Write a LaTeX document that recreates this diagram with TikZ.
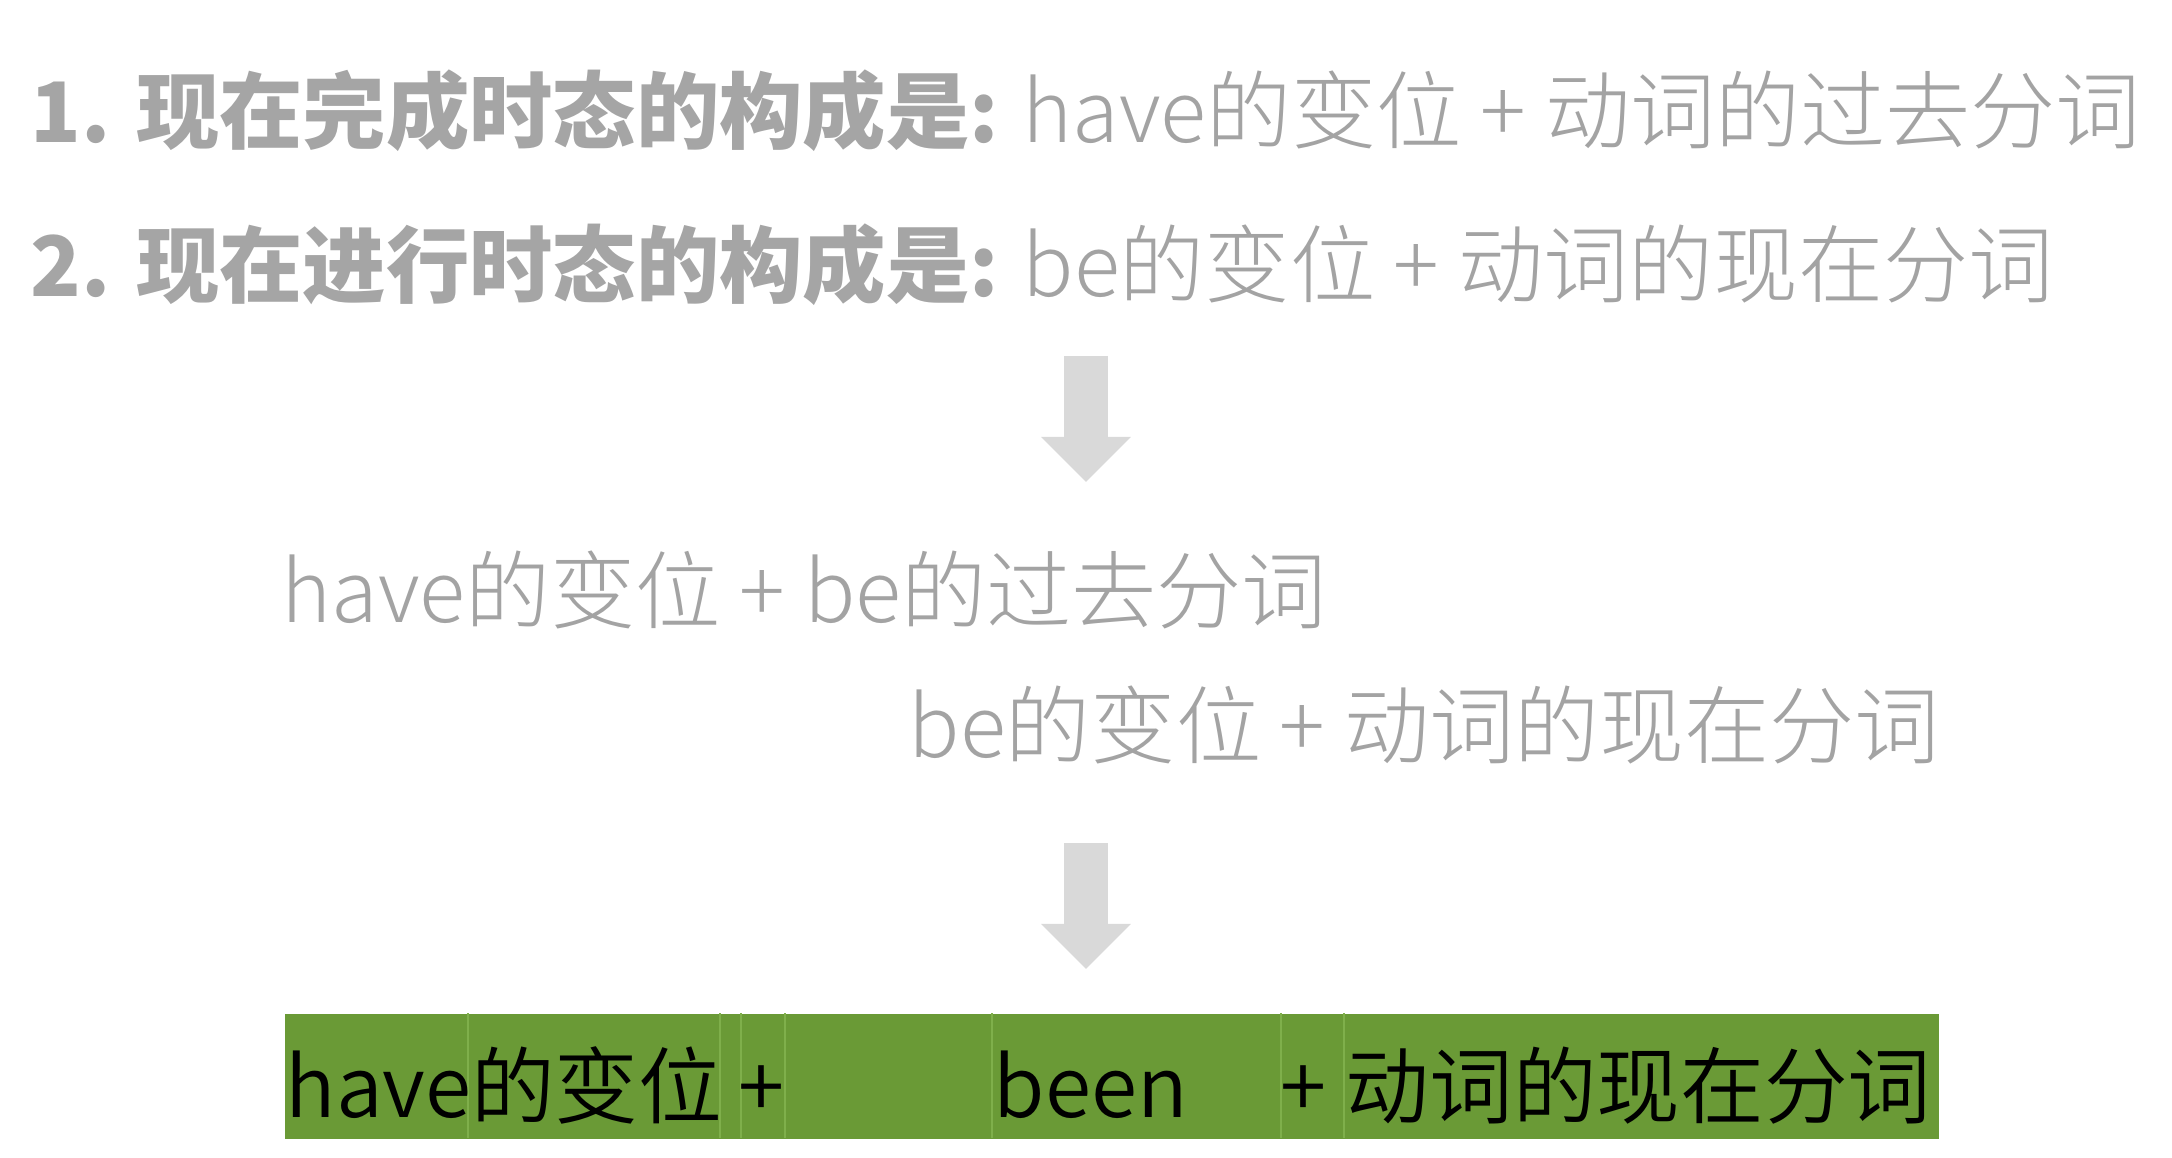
\documentclass[tikz,border=0pt]{standalone}
\usepackage{fontspec}
\usetikzlibrary{arrows.meta}
\newfontfamily\cjk{Noto Sans CJK SC}
\newfontfamily\cjklight{Noto Sans CJK SC Light}
\newfontfamily\cjkdemi{Noto Sans CJK SC DemiLight}
\definecolor{headgray}{HTML}{A5A5A5}
\definecolor{rulegray}{HTML}{A3A3A3}
\definecolor{arrowgray}{HTML}{D9D9D9}
\definecolor{boxgreen}{HTML}{6A9A36}
\definecolor{cellgreen}{HTML}{7FAF4B}
\tikzset{
  head/.style={anchor=base west, inner sep=0pt, text=headgray, font=\cjk\bfseries\fontsize{23.7}{28}\selectfont},
  rule/.style={anchor=base west, inner sep=0pt, text=rulegray, font=\cjklight\fontsize{24.2}{28}\selectfont},
  cell/.style={anchor=base west, inner sep=0pt, text=black, font=\cjkdemi\fontsize{23.8}{28}\selectfont},
  down/.style={arrowgray, line width=0.43cm, -{Triangle[width=0.87cm, length=0.45cm]}},
}
\begin{document}
\begin{tikzpicture}[x=0.01cm, y=-0.01cm]
  \useasboundingbox (0,0) rectangle (2172,1158);
  \draw
    (30,143) node[head] (h1){1. 现在完成时态的构成是:}
    (1022,143) node[rule] (r1){have的变位 + 动词的过去分词}
    (30,297) node[head] (h2){2. 现在进行时态的构成是:}
    (1022,297) node[rule] (r2){be的变位 + 动词的现在分词};
  \coordinate (a1top) at (1086,356);
  \coordinate (a1tip) at (1086,482);
  \draw[down] (a1top) -- (a1tip);
  \draw
    (281,623) node[rule] (r3){have的变位 + be的过去分词}
    (908,758) node[rule] (r4){be的变位 + 动词的现在分词};
  \coordinate (a2top) at (1086,843);
  \coordinate (a2tip) at (1086,969);
  \draw[down] (a2top) -- (a2tip);
  % result row
  \node[fill=boxgreen, inner sep=0pt, minimum width=16.53cm, minimum height=1.25cm, anchor=north west] (box) at (284,1013) {};
  \foreach \cx in {468,720,741,785,992,1281,1344}
    \draw[cellgreen, line width=0.6pt] (\cx,1013) -- (\cx,1138);
  \draw
    (285,1117) node[cell] (c1){have的变位}
    (738,1117) node[cell] (c2){+}
    (993,1117) node[cell] (c3){been}
    (1280,1117) node[cell] (c4){+}
    (1345,1117) node[cell] (c5){动词的现在分词};
\end{tikzpicture}
\end{document}
